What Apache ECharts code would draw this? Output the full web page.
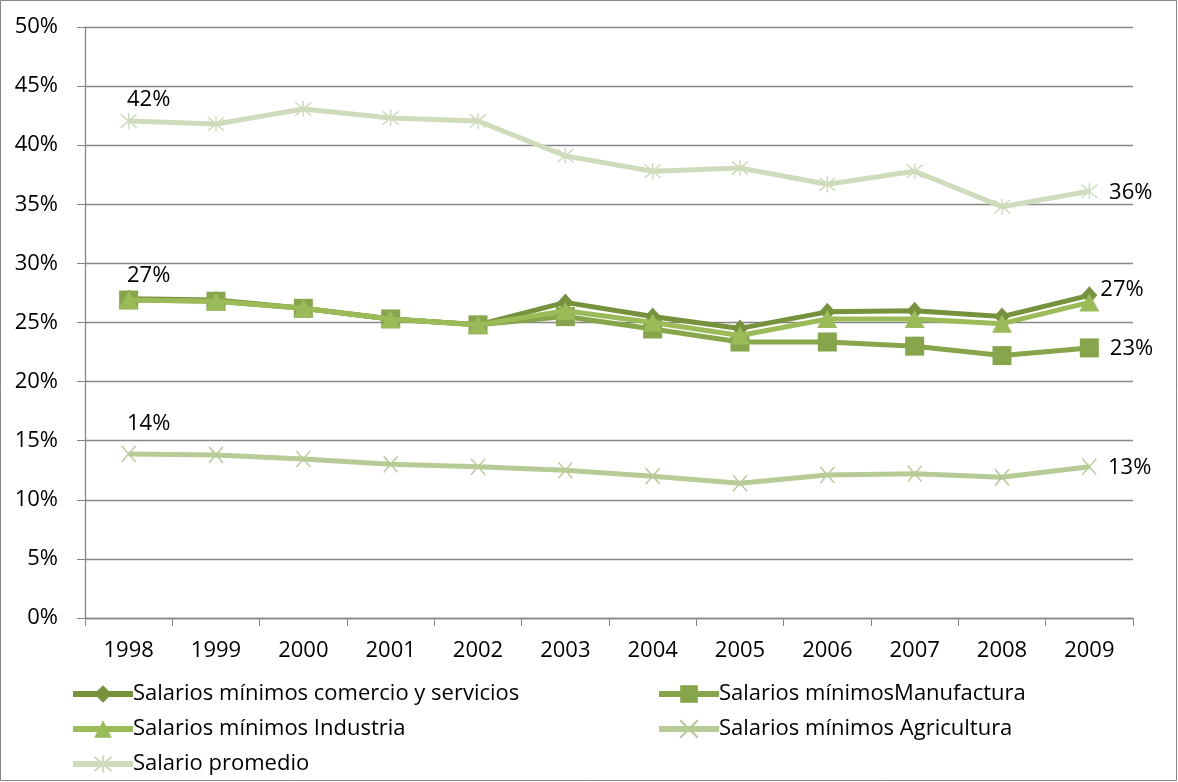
<!DOCTYPE html>
<html>
<head>
<meta charset="utf-8">
<script src="https://cdn.jsdelivr.net/npm/echarts@6/dist/echarts.min.js"></script>
<style>
  html, body { margin: 0; padding: 0; background: #fff; }
  #chart { width: 1178px; height: 782px; }
</style>
</head>
<body>
<div id="chart"></div>
<script>
// Years on the horizontal axis
const years = ['1998', '1999', '2000', '2001', '2002', '2003', '2004', '2005', '2006', '2007', '2008', '2009'];

// Share values in percent
const comercio     = [27.0, 26.9, 26.2, 25.3, 24.8, 26.7, 25.5, 24.5, 25.9, 26.0, 25.5, 27.3];
const manufactura  = [26.9, 26.8, 26.2, 25.3, 24.8, 25.5, 24.45, 23.35, 23.35, 23.0, 22.2, 22.85];
const industria    = [26.9, 26.8, 26.2, 25.3, 24.8, 26.0, 25.0, 23.9, 25.3, 25.3, 24.9, 26.7];
const agricultura  = [13.87, 13.8, 13.45, 13.0, 12.8, 12.5, 12.0, 11.4, 12.1, 12.2, 11.9, 12.8];
const promedio     = [42.05, 41.8, 43.07, 42.3, 42.05, 39.1, 37.8, 38.07, 36.7, 37.8, 34.8, 36.1];

// Y axis ticks (percent)
const yTicks = { min: 0, max: 50, step: 5 };

const seriesNames = [
  'Salarios mínimos comercio y servicios',
  'Salarios mínimosManufactura',
  'Salarios mínimos Industria',
  'Salarios mínimos Agricultura',
  'Salario promedio'
];

const FONT = 'Open Sans';
const FS = 22;
const AXIS_GRAY = '#868686';

const crossPath = 'path://M0,0L10,12M10,0L0,12';
const starPath = 'path://M0,1L10,11M10,1L0,11M5,0L5,12';

// Which point indices carry a value label, and where
function withLabels(values, marks) {
  return values.map((v, i) => {
    if (marks[i]) {
      return { value: v, label: { show: true, position: marks[i].pos, offset: marks[i].offset || [0, 0] } };
    }
    return v;
  });
}

const labelStyle = {
  fontFamily: FONT, fontSize: FS, color: '#000',
  formatter: p => Math.round(p.value) + '%'
};

function lineSeries(name, data, color, symbol, size, width, extra) {
  return Object.assign({
    name, type: 'line', data,
    symbol, symbolSize: size,
    showSymbol: true,
    lineStyle: { color, width },
    itemStyle: { color, borderColor: color, borderWidth: 0 },
    emphasis: { disabled: true },
    label: Object.assign({ show: false }, labelStyle),
    animation: false,
    z: 2
  }, extra || {});
}

const chart = echarts.init(document.getElementById('chart'), null, { renderer: 'canvas' });

const legendBase = {
  orient: 'horizontal',
  itemWidth: 60, itemHeight: 22, itemGap: 0,
  lineStyle: { width: 6 },
  textStyle: { fontFamily: FONT, fontSize: FS, color: '#000', padding: [0, 0, 0, -5] },
  selectedMode: false,
  padding: 0
};

chart.setOption({
  backgroundColor: '#fff',
  animation: false,
  grid: { left: 85, right: 45, top: 27, bottom: 164, containLabel: false },
  xAxis: {
    type: 'category',
    data: years,
    boundaryGap: true,
    axisLine: { lineStyle: { color: AXIS_GRAY, width: 1.3 } },
    axisTick: { show: true, length: 8, alignWithLabel: false, lineStyle: { color: AXIS_GRAY } },
    axisLabel: { fontFamily: FONT, fontSize: FS, color: '#000', margin: 22 },
    splitLine: { show: false }
  },
  yAxis: {
    type: 'value',
    min: yTicks.min, max: yTicks.max, interval: yTicks.step,
    axisLine: { show: true, lineStyle: { color: AXIS_GRAY, width: 1.3 } },
    axisTick: { show: true, length: 8, inside: false, lineStyle: { color: AXIS_GRAY } },
    axisLabel: { fontFamily: FONT, fontSize: FS, color: '#000', margin: 27, formatter: '{value}%' },
    splitLine: { show: true, lineStyle: { color: AXIS_GRAY, width: 1.3 } }
  },
  legend: [
    Object.assign({}, legendBase, { data: [seriesNames[0]], left: 70, top: 683 }),
    Object.assign({}, legendBase, { data: [seriesNames[1]], left: 656, top: 683 }),
    Object.assign({}, legendBase, { data: [seriesNames[2]], left: 70, top: 718 }),
    Object.assign({}, legendBase, { data: [seriesNames[3]], left: 656, top: 718 }),
    Object.assign({}, legendBase, { data: [seriesNames[4]], left: 70, top: 753 })
  ],
  graphic: [{
    type: 'rect',
    shape: { x: 0.5, y: 0.5, width: 1176, height: 780 },
    style: { fill: 'none', stroke: AXIS_GRAY, lineWidth: 1 },
    silent: true, z: -1
  }],
  series: [
    lineSeries(seriesNames[0],
      withLabels(comercio, { 0: { pos: 'top', offset: [20, 2] }, 11: { pos: 'right', offset: [-2, -6] } }),
      '#76923c', 'diamond', [16, 18], 5, { z: 3 }),
    lineSeries(seriesNames[1],
      withLabels(manufactura, { 11: { pos: 'right', offset: [6, 1] } }),
      '#87a54b', 'rect', 19, 5, { z: 4 }),
    lineSeries(seriesNames[2],
      industria,
      '#9bbb59', 'triangle', [20, 18], 5, { z: 5 }),
    lineSeries(seriesNames[3],
      withLabels(agricultura, { 0: { pos: 'top', offset: [20, -6] }, 11: { pos: 'right', offset: [6, 1] } }),
      '#b6cb96', crossPath, [14, 16], 5,
      { z: 2, itemStyle: { color: '#b6cb96', borderColor: '#b6cb96', borderWidth: 1.5 } }),
    lineSeries(seriesNames[4],
      withLabels(promedio, { 0: { pos: 'top', offset: [20, 4] }, 11: { pos: 'right', offset: [6, 1] } }),
      '#cfdcbc', starPath, [16, 16], 5,
      { z: 2, itemStyle: { color: '#cfdcbc', borderColor: '#cfdcbc', borderWidth: 1.5 } })
  ]
});
</script>
</body>
</html>
